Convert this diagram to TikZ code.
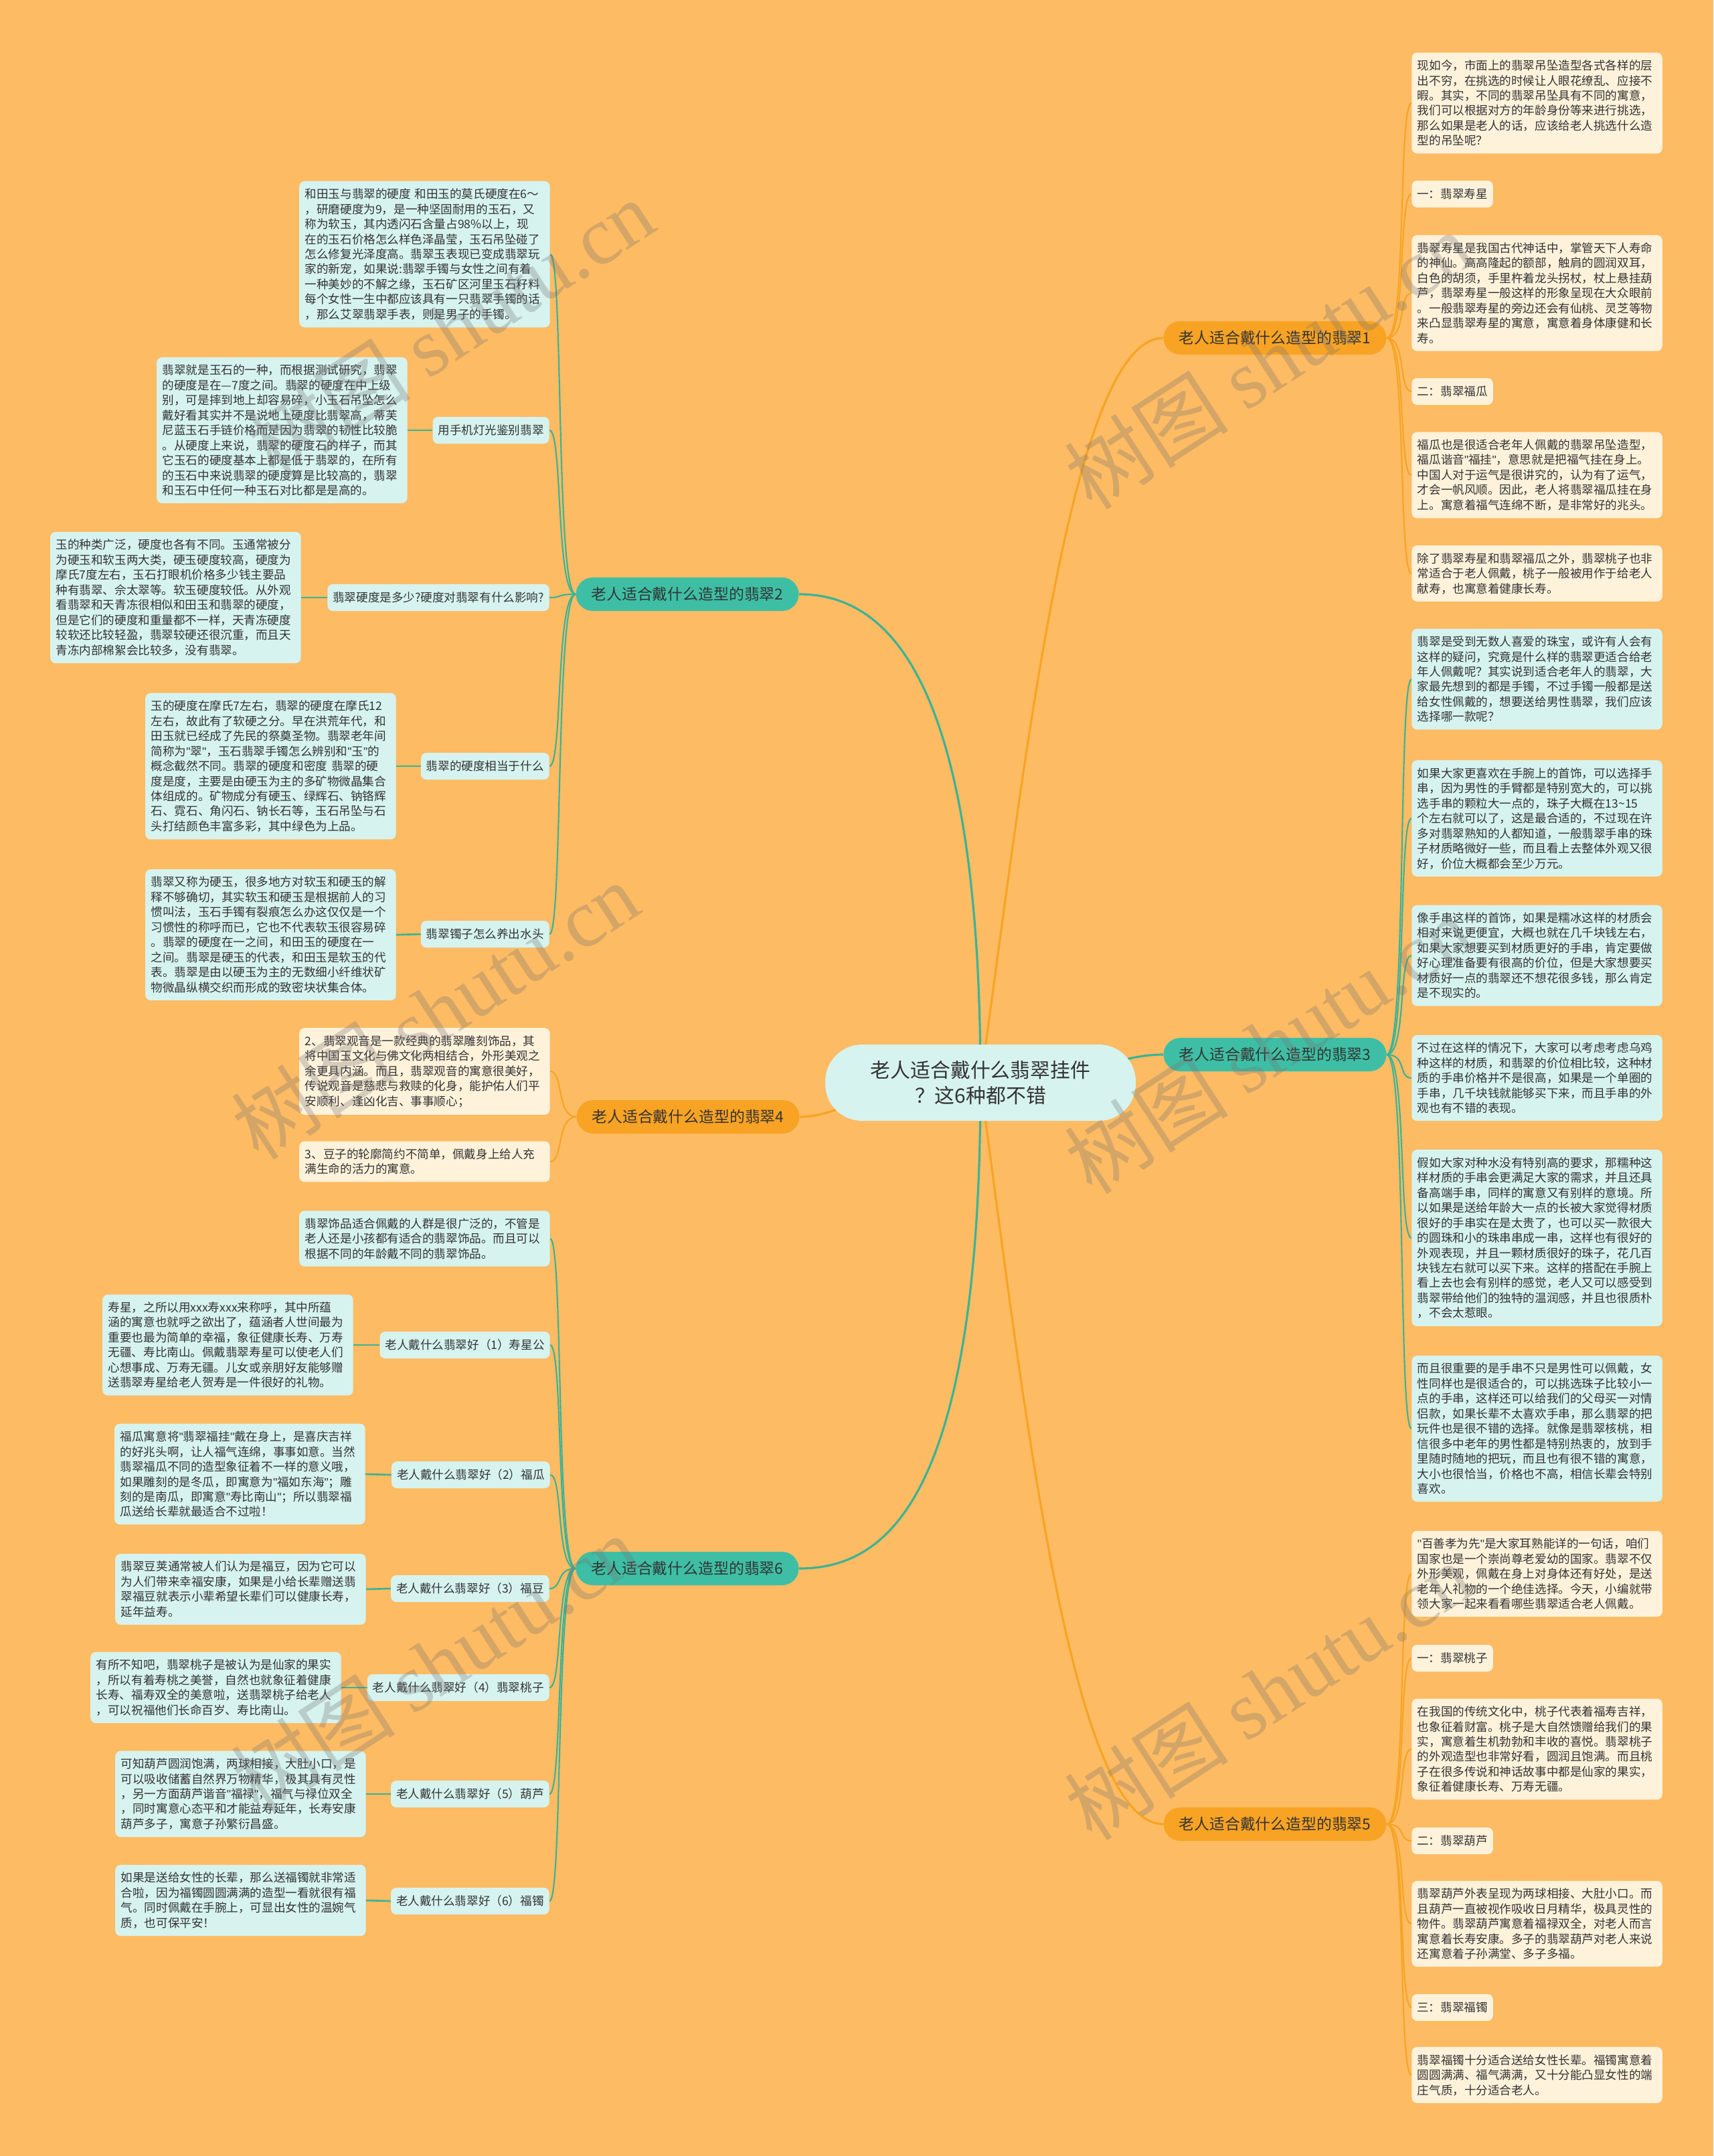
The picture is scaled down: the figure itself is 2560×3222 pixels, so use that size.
\documentclass[tikz,border=0pt]{standalone}
\usepackage{fontspec}
\setmainfont{Noto Sans CJK SC}
\newfontfamily\wmlatin{Liberation Serif}
\newfontfamily\qfont{Liberation Sans}
\usetikzlibrary{backgrounds}
\definecolor{bgorange}{RGB}{253,187,99}
\definecolor{leafcyan}{RGB}{214,243,240}
\definecolor{leafcream}{RGB}{255,242,219}
\definecolor{tealmain}{RGB}{62,191,165}
\definecolor{orangemain}{RGB}{249,163,36}
\definecolor{tealline}{RGB}{58,179,150}
\definecolor{orangeline}{RGB}{247,164,36}
\definecolor{textdark}{RGB}{51,51,51}
\newcommand{\leaffont}{\fontsize{10pt}{12.8pt}\selectfont}
\newcommand{\dq}{{\qfont"}}
\tikzstyle{leafteal}=[fill=leafcyan,rounded corners=0.16cm,text width=7.15cm,inner xsep=0.17cm,inner ysep=0.22cm,align=left,text=textdark,font=\leaffont]
\tikzstyle{leafcream}=[leafteal,fill=leafcream]
\tikzstyle{labelteal}=[fill=leafcyan,rounded corners=0.16cm,minimum height=0.8cm,inner xsep=0.16cm,text=textdark,font=\leaffont]
\tikzstyle{labelcream}=[labelteal,fill=leafcream]
\tikzstyle{mainteal}=[fill=tealmain,rounded corners=0.5cm,minimum width=6.66cm,minimum height=1cm,text=textdark,font=\fontsize{13pt}{15pt}\selectfont]
\tikzstyle{mainorange}=[mainteal,fill=orangemain]
\tikzstyle{rootnode}=[fill=leafcyan,rounded corners=1.1cm,minimum width=9.28cm,minimum height=2.28cm,align=center,text=textdark,font=\fontsize{17pt}{21.6pt}\selectfont]
\tikzstyle{tealwire}=[draw=tealline,line width=1.2pt]
\tikzstyle{orangewire}=[draw=orangeline,line width=1.2pt]
\tikzstyle{watermark}=[text=black!55,opacity=0.3,rotate=33,font=\fontsize{70pt}{76pt}\selectfont]

\begin{document}
\begin{tikzpicture}[x=0.02cm,y=-0.02cm]
\useasboundingbox (0,0) rectangle (2560,3222);

\draw (1465,1618) node [rootnode] (root) {老人适合戴什么翡翠挂件\\？这6种都不错};
\draw (1905,505) node [mainorange] (m1) {老人适合戴什么造型的翡翠1};
\draw (1027,888) node [mainteal] (m2) {老人适合戴什么造型的翡翠2};
\draw (1905,1576) node [mainteal] (m3) {老人适合戴什么造型的翡翠3};
\draw (1028,1669) node [mainorange] (m4) {老人适合戴什么造型的翡翠4};
\draw (1905,2726) node [mainorange] (m5) {老人适合戴什么造型的翡翠5};
\draw (1027,2344) node [mainteal] (m6) {老人适合戴什么造型的翡翠6};

% branch 2
\draw (822,380) node [leafteal,anchor=east] (l2a) {和田玉与翡翠的硬度 和田玉的莫氏硬度在6～\\，研磨硬度为9，是一种坚固耐用的玉石，又\\称为软玉，其内透闪石含量占98\%以上，现\\在的玉石价格怎么样色泽晶莹，玉石吊坠碰了\\怎么修复光泽度高。翡翠玉表现已变成翡翠玩\\家的新宠，如果说:翡翠手镯与女性之间有着\\一种美妙的不解之缘，玉石矿区河里玉石籽料\\每个女性一生中都应该具有一只翡翠手镯的话\\，那么艾翠翡翠手表，则是男子的手镯。};
\draw (821,643) node [labelteal,anchor=east] (s2b) {用手机灯光鉴别翡翠};
\draw (609,643) node [leafteal,anchor=east] (l2b) {翡翠就是玉石的一种，而根据测试研究，翡翠\\的硬度是在—7度之间。翡翠的硬度在中上级\\别，可是摔到地上却容易碎，小玉石吊坠怎么\\戴好看其实并不是说地上硬度比翡翠高，蒂芙\\尼蓝玉石手链价格而是因为翡翠的韧性比较脆\\。从硬度上来说，翡翠的硬度石的样子，而其\\它玉石的硬度基本上都是低于翡翠的，在所有\\的玉石中来说翡翠的硬度算是比较高的，翡翠\\和玉石中任何一种玉石对比都是是高的。};
\draw (821,893) node [labelteal,anchor=east] (s2c) {翡翠硬度是多少?硬度对翡翠有什么影响?};
\draw (450,893) node [leafteal,anchor=east] (l2c) {玉的种类广泛，硬度也各有不同。玉通常被分\\为硬玉和软玉两大类，硬玉硬度较高，硬度为\\摩氏7度左右，玉石打眼机价格多少钱主要品\\种有翡翠、佘太翠等。软玉硬度较低。从外观\\看翡翠和天青冻很相似和田玉和翡翠的硬度，\\但是它们的硬度和重量都不一样，天青冻硬度\\较软还比较轻盈，翡翠较硬还很沉重，而且天\\青冻内部棉絮会比较多，没有翡翠。};
\draw (821,1145) node [labelteal,anchor=east] (s2d) {翡翠的硬度相当于什么};
\draw (592,1145) node [leafteal,anchor=east] (l2d) {玉的硬度在摩氏7左右，翡翠的硬度在摩氏12\\左右，故此有了软硬之分。早在洪荒年代，和\\田玉就已经成了先民的祭奠圣物。翡翠老年间\\简称为\dq 翠\dq ，玉石翡翠手镯怎么辨别和\dq 玉\dq 的\\概念截然不同。翡翠的硬度和密度 翡翠的硬\\度是度，主要是由硬玉为主的多矿物微晶集合\\体组成的。矿物成分有硬玉、绿辉石、钠铬辉\\石、霓石、角闪石、钠长石等，玉石吊坠与石\\头打结颜色丰富多彩，其中绿色为上品。};
\draw (821,1396) node [labelteal,anchor=east] (s2e) {翡翠镯子怎么养出水头};
\draw (592,1397) node [leafteal,anchor=east] (l2e) {翡翠又称为硬玉，很多地方对软玉和硬玉的解\\释不够确切，其实软玉和硬玉是根据前人的习\\惯叫法，玉石手镯有裂痕怎么办这仅仅是一个\\习惯性的称呼而已，它也不代表软玉很容易碎\\。翡翠的硬度在一之间，和田玉的硬度在一\\之间。翡翠是硬玉的代表，和田玉是软玉的代\\表。翡翠是由以硬玉为主的无数细小纤维状矿\\物微晶纵横交织而形成的致密块状集合体。};

% branch 4
\draw (822,1601) node [leafcream,anchor=east] (l4a) {2、翡翠观音是一款经典的翡翠雕刻饰品，其\\将中国玉文化与佛文化两相结合，外形美观之\\余更具内涵。而且，翡翠观音的寓意很美好，\\传说观音是慈悲与救赎的化身，能护佑人们平\\安顺利、逢凶化吉、事事顺心；};
\draw (822,1736) node [leafcream,anchor=east] (l4b) {3、豆子的轮廓简约不简单，佩戴身上给人充\\满生命的活力的寓意。};

% branch 6
\draw (822,1851) node [leafteal,anchor=east] (l6a) {翡翠饰品适合佩戴的人群是很广泛的，不管是\\老人还是小孩都有适合的翡翠饰品。而且可以\\根据不同的年龄戴不同的翡翠饰品。};
\draw (822,2010) node [labelteal,anchor=east] (s61) {老人戴什么翡翠好（1）寿星公};
\draw (528,2010) node [leafteal,anchor=east] (l61) {寿星，之所以用xxx寿xxx来称呼，其中所蕴\\涵的寓意也就呼之欲出了，蕴涵者人世间最为\\重要也最为简单的幸福，象征健康长寿、万寿\\无疆、寿比南山。佩戴翡翠寿星可以使老人们\\心想事成、万寿无疆。儿女或亲朋好友能够赠\\送翡翠寿星给老人贺寿是一件很好的礼物。};
\draw (822,2204) node [labelteal,anchor=east] (s62) {老人戴什么翡翠好（2）福瓜};
\draw (546,2203) node [leafteal,anchor=east] (l62) {福瓜寓意将\dq 翡翠福挂\dq 戴在身上，是喜庆吉祥\\的好兆头啊，让人福气连绵，事事如意。当然\\翡翠福瓜不同的造型象征着不一样的意义哦，\\如果雕刻的是冬瓜，即寓意为\dq 福如东海\dq ；雕\\刻的是南瓜，即寓意\dq 寿比南山\dq ；所以翡翠福\\瓜送给长辈就最适合不过啦！};
\draw (821,2374) node [labelteal,anchor=east] (s63) {老人戴什么翡翠好（3）福豆};
\draw (547,2375) node [leafteal,anchor=east] (l63) {翡翠豆荚通常被人们认为是福豆，因为它可以\\为人们带来幸福安康，如果是小给长辈赠送翡\\翠福豆就表示小辈希望长辈们可以健康长寿，\\延年益寿。};
\draw (821,2522) node [labelteal,anchor=east] (s64) {老人戴什么翡翠好（4）翡翠桃子};
\draw (510,2522) node [leafteal,anchor=east] (l64) {有所不知吧，翡翠桃子是被认为是仙家的果实\\，所以有着寿桃之美誉，自然也就象征着健康\\长寿、福寿双全的美意啦，送翡翠桃子给老人\\，可以祝福他们长命百岁、寿比南山。};
\draw (821,2681) node [labelteal,anchor=east] (s65) {老人戴什么翡翠好（5）葫芦};
\draw (547,2681) node [leafteal,anchor=east] (l65) {可知葫芦圆润饱满，两球相接，大肚小口，是\\可以吸收储蓄自然界万物精华，极其具有灵性\\，另一方面葫芦谐音\dq 福禄\dq ，福气与禄位双全\\，同时寓意心态平和才能益寿延年，长寿安康\\葫芦多子，寓意子孙繁衍昌盛。};
\draw (821,2841) node [labelteal,anchor=east] (s66) {老人戴什么翡翠好（6）福镯};
\draw (547,2840) node [leafteal,anchor=east] (l66) {如果是送给女性的长辈，那么送福镯就非常适\\合啦，因为福镯圆圆满满的造型一看就很有福\\气。同时佩戴在手腕上，可显出女性的温婉气\\质，也可保平安！};

% branch 1
\draw (2109,154) node [leafcream,anchor=west] (r1a) {现如今，市面上的翡翠吊坠造型各式各样的层\\出不穷，在挑选的时候让人眼花缭乱、应接不\\暇。其实，不同的翡翠吊坠具有不同的寓意，\\我们可以根据对方的年龄身份等来进行挑选，\\那么如果是老人的话，应该给老人挑选什么造\\型的吊坠呢？};
\draw (2109,290) node [labelcream,anchor=west] (r1b) {一：翡翠寿星};
\draw (2109,438) node [leafcream,anchor=west] (r1c) {翡翠寿星是我国古代神话中，掌管天下人寿命\\的神仙。高高隆起的额部，触肩的圆润双耳，\\白色的胡须，手里杵着龙头拐杖，杖上悬挂葫\\芦，翡翠寿星一般这样的形象呈现在大众眼前\\。一般翡翠寿星的旁边还会有仙桃、灵芝等物\\来凸显翡翠寿星的寓意，寓意着身体康健和长\\寿。};
\draw (2109,585) node [labelcream,anchor=west] (r1d) {二：翡翠福瓜};
\draw (2109,710) node [leafcream,anchor=west] (r1e) {福瓜也是很适合老年人佩戴的翡翠吊坠造型，\\福瓜谐音\dq 福挂\dq ，意思就是把福气挂在身上。\\中国人对于运气是很讲究的，认为有了运气，\\才会一帆风顺。因此，老人将翡翠福瓜挂在身\\上。寓意着福气连绵不断，是非常好的兆头。};
\draw (2109,857) node [leafcream,anchor=west] (r1f) {除了翡翠寿星和翡翠福瓜之外，翡翠桃子也非\\常适合于老人佩戴，桃子一般被用作于给老人\\献寿，也寓意着健康长寿。};

% branch 3
\draw (2109,1015) node [leafteal,anchor=west] (r3a) {翡翠是受到无数人喜爱的珠宝，或许有人会有\\这样的疑问，究竟是什么样的翡翠更适合给老\\年人佩戴呢？其实说到适合老年人的翡翠，大\\家最先想到的都是手镯，不过手镯一般都是送\\给女性佩戴的，想要送给男性翡翠，我们应该\\选择哪一款呢？};
\draw (2109,1223) node [leafteal,anchor=west] (r3b) {如果大家更喜欢在手腕上的首饰，可以选择手\\串，因为男性的手臂都是特别宽大的，可以挑\\选手串的颗粒大一点的，珠子大概在13\textasciitilde15\\个左右就可以了，这是最合适的，不过现在许\\多对翡翠熟知的人都知道，一般翡翠手串的珠\\子材质略微好一些，而且看上去整体外观又很\\好，价位大概都会至少万元。};
\draw (2109,1428) node [leafteal,anchor=west] (r3c) {像手串这样的首饰，如果是糯冰这样的材质会\\相对来说更便宜，大概也就在几千块钱左右，\\如果大家想要买到材质更好的手串，肯定要做\\好心理准备要有很高的价位，但是大家想要买\\材质好一点的翡翠还不想花很多钱，那么肯定\\是不现实的。};
\draw (2109,1611) node [leafteal,anchor=west] (r3d) {不过在这样的情况下，大家可以考虑考虑乌鸡\\种这样的材质，和翡翠的价位相比较，这种材\\质的手串价格并不是很高，如果是一个单圈的\\手串，几千块钱就能够买下来，而且手串的外\\观也有不错的表现。};
\draw (2109,1850) node [leafteal,anchor=west] (r3e) {假如大家对种水没有特别高的要求，那糯种这\\样材质的手串会更满足大家的需求，并且还具\\备高端手串，同样的寓意又有别样的意境。所\\以如果是送给年龄大一点的长被大家觉得材质\\很好的手串实在是太贵了，也可以买一款很大\\的圆珠和小的珠串串成一串，这样也有很好的\\外观表现，并且一颗材质很好的珠子，花几百\\块钱左右就可以买下来。这样的搭配在手腕上\\看上去也会有别样的感觉，老人又可以感受到\\翡翠带给他们的独特的温润感，并且也很质朴\\，不会太惹眼。};
\draw (2109,2135) node [leafteal,anchor=west] (r3f) {而且很重要的是手串不只是男性可以佩戴，女\\性同样也是很适合的，可以挑选珠子比较小一\\点的手串，这样还可以给我们的父母买一对情\\侣款，如果长辈不太喜欢手串，那么翡翠的把\\玩件也是很不错的选择。就像是翡翠核桃，相\\信很多中老年的男性都是特别热衷的，放到手\\里随时随地的把玩，而且也有很不错的寓意，\\大小也很恰当，价格也不高，相信长辈会特别\\喜欢。};

% branch 5
\draw (2109,2352) node [leafcream,anchor=west] (r5a) {\dq 百善孝为先\dq 是大家耳熟能详的一句话，咱们\\国家也是一个崇尚尊老爱幼的国家。翡翠不仅\\外形美观，佩戴在身上对身体还有好处，是送\\老年人礼物的一个绝佳选择。今天，小编就带\\领大家一起来看看哪些翡翠适合老人佩戴。};
\draw (2109,2478) node [labelcream,anchor=west] (r5b) {一：翡翠桃子};
\draw (2109,2614) node [leafcream,anchor=west] (r5c) {在我国的传统文化中，桃子代表着福寿吉祥，\\也象征着财富。桃子是大自然馈赠给我们的果\\实，寓意着生机勃勃和丰收的喜悦。翡翠桃子\\的外观造型也非常好看，圆润且饱满。而且桃\\子在很多传说和神话故事中都是仙家的果实，\\象征着健康长寿、万寿无疆。};
\draw (2109,2751) node [labelcream,anchor=west] (r5d) {二：翡翠葫芦};
\draw (2109,2875) node [leafcream,anchor=west] (r5e) {翡翠葫芦外表呈现为两球相接、大肚小口。而\\且葫芦一直被视作吸收日月精华，极具灵性的\\物件。翡翠葫芦寓意着福禄双全，对老人而言\\寓意着长寿安康。多子的翡翠葫芦对老人来说\\还寓意着子孙满堂、多子多福。};
\draw (2109,3000) node [labelcream,anchor=west] (r5f) {三：翡翠福镯};
\draw (2109,3101) node [leafcream,anchor=west] (r5g) {翡翠福镯十分适合送给女性长辈。福镯寓意着\\圆圆满满、福气满满，又十分能凸显女性的端\\庄气质，十分适合老人。};

\begin{scope}[on background layer]
\fill[bgorange] (0,0) rectangle (2560,3222);
\draw[orangewire,line width=1.8pt] (root.center) .. controls (1530,1150) and (1600,505) .. (m1.west);
\draw[tealwire,line width=1.8pt] (root.center) .. controls (1465,1000) and (1320,888) .. (m2.east);
\draw[tealwire,line width=1.8pt] (root.center) .. controls (1620,1618) and (1660,1576) .. (m3.west);
\draw[orangewire,line width=1.8pt] (root.center) .. controls (1300,1618) and (1260,1669) .. (m4.east);
\draw[orangewire,line width=1.8pt] (root.center) .. controls (1530,2100) and (1600,2726) .. (m5.west);
\draw[tealwire,line width=1.8pt] (root.center) .. controls (1465,2250) and (1320,2344) .. (m6.east);
\foreach \c in {l2a,s2b,s2c,s2d,s2e}
  \draw[tealwire] (m2.west) .. controls +(-30,0) and +(20,0) .. (\c.east);
\foreach \s/\l in {s2b/l2b,s2c/l2c,s2d/l2d,s2e/l2e,s61/l61,s62/l62,s63/l63,s64/l64,s65/l65,s66/l66}
  \draw[tealwire,line width=1.5pt] (\s.west) -- (\l.east);
\foreach \c in {l4a,l4b}
  \draw[orangewire] (m4.west) .. controls +(-30,0) and +(20,0) .. (\c.east);
\foreach \c in {l6a,s61,s62,s63,s64,s65,s66}
  \draw[tealwire] (m6.west) .. controls +(-30,0) and +(20,0) .. (\c.east);
\foreach \c in {r1a,r1b,r1c,r1d,r1e,r1f}
  \draw[orangewire] (m1.east) .. controls +(30,0) and +(-20,0) .. (\c.west);
\foreach \c in {r3a,r3b,r3c,r3d,r3e,r3f}
  \draw[tealwire] (m3.east) .. controls +(30,0) and +(-20,0) .. (\c.west);
\foreach \c in {r5a,r5b,r5c,r5d,r5e,r5f,r5g}
  \draw[orangewire] (m5.east) .. controls +(30,0) and +(-20,0) .. (\c.west);
\end{scope}

\node[watermark] (wm1) at (673,490) {树图 {\wmlatin shutu.cn}};
\node[watermark] (wm2) at (1895,538) {树图 {\wmlatin shutu.cn}};
\node[watermark] (wm3) at (650,1510) {树图 {\wmlatin shutu.cn}};
\node[watermark] (wm4) at (1895,1561) {树图 {\wmlatin shutu.cn}};
\node[watermark] (wm5) at (650,2486) {树图 {\wmlatin shutu.cn}};
\node[watermark] (wm6) at (1895,2527) {树图 {\wmlatin shutu.cn}};
\end{tikzpicture}
\end{document}
